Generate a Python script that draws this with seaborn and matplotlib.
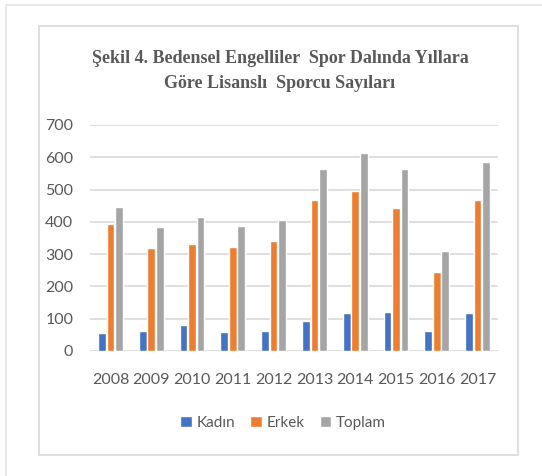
import matplotlib
matplotlib.use("Agg")
import matplotlib.pyplot as plt
import seaborn as sns
import pandas as pd
from matplotlib.patches import Rectangle

years = ["2008", "2009", "2010", "2011", "2012", "2013", "2014", "2015", "2016", "2017"]
kadin = [56, 62, 79, 59, 63, 93, 117, 120, 62, 117]
erkek = [393, 318, 332, 322, 341, 467, 495, 444, 246, 467]
toplam = [447, 383, 414, 386, 407, 563, 614, 563, 310, 586]
series_names = ["Kadın", "Erkek", "Toplam"]
yticks = [0, 100, 200, 300, 400, 500, 600, 700]
title = "Şekil 4. Bedensel Engelliler  Spor Dalında Yıllara\nGöre Lisanslı  Sporcu Sayıları"

df = pd.DataFrame({
    "Yıl": years * 3,
    "Sayı": kadin + erkek + toplam,
    "Seri": [series_names[0]] * len(years) + [series_names[1]] * len(years) + [series_names[2]] * len(years),
})

sns.set_theme(style="white")
plt.rcParams["font.family"] = ["Lato", "DejaVu Sans"]

fig = plt.figure(figsize=(5.42, 4.76), dpi=100)
ax = fig.add_axes([90 / 542, 1 - 351 / 476, 408 / 542, 226 / 476])

palette = {"Kadın": "#4472C4", "Erkek": "#ED7D31", "Toplam": "#A5A5A5"}
sns.barplot(data=df, x="Yıl", y="Sayı", hue="Seri", palette=palette, width=0.62,
            gap=0.08, ax=ax, saturation=1, legend=True, zorder=3)

ax.set_ylim(0, 700)
ax.set_yticks(yticks)
ax.set_yticklabels([str(t) for t in yticks])
ax.set_xlabel("")
ax.set_ylabel("")
for s in ax.spines.values():
    s.set_visible(False)
ax.grid(axis="y", color="#d9d9d9", linewidth=1.2, zorder=0)
ax.grid(axis="x", visible=False)
ax.tick_params(axis="both", length=0, labelsize=11.5, colors="#595959")
ax.tick_params(axis="x", pad=16)
ax.tick_params(axis="y", pad=12)
ax.set_xlim(-0.5, len(years) - 0.5)

handles, labels = ax.get_legend_handles_labels()
ax.legend_.remove()
fig.legend(handles, labels, loc="center", bbox_to_anchor=(283 / 542, 1 - 423 / 476),
           ncol=3, frameon=False, fontsize=11, handlelength=0.75, handleheight=0.75,
           handletextpad=0.3, columnspacing=1.0, labelcolor="#595959")

fig.text(280 / 542, 1 - 71 / 476, title, ha="center", va="center",
         family=["Liberation Serif", "DejaVu Serif"], fontweight="bold",
         fontsize=13, color="#595959", linespacing=1.55)

# frames
fig.patches.append(Rectangle((6 / 542, -0.1), 1.1, 1 - 5 / 476 + 0.1, transform=fig.transFigure,
                             fill=False, edgecolor="#e3e3e3", linewidth=1.2))
fig.patches.append(Rectangle((39 / 542, 1 - 455 / 476), (518 - 39) / 542, (455 - 26) / 476,
                             transform=fig.transFigure, fill=False, edgecolor="#d9d9d9", linewidth=1.2))

fig.savefig("out.png", dpi=100)
